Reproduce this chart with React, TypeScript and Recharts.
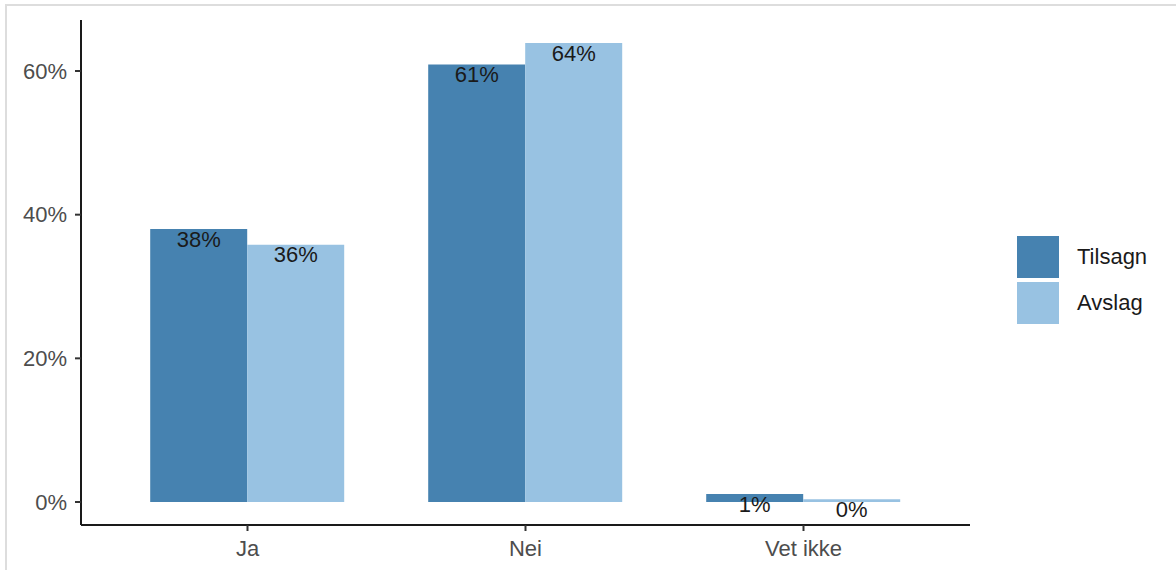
import { Bar, BarChart, LabelList, XAxis, YAxis } from "recharts";

const categories = ["Ja", "Nei", "Vet ikke"];
const tilsagn = [38.0, 60.9, 1.1];
const avslag = [35.8, 63.9, 0.4];
const yTicks = [0, 20, 40, 60];

const seriesNames = ["Tilsagn", "Avslag"];
const seriesColors = ["#4682B0", "#98C2E2"];

const data = categories.map((cat, i) => ({
  cat,
  Tilsagn: tilsagn[i],
  Avslag: avslag[i],
}));

const pct = (v: unknown) => `${Math.round(Number(v))}%`;

export default function App() {
  return (
    <div
      style={{
        position: "absolute",
        left: 0,
        top: 0,
        width: 1176,
        height: 570,
        background: "#fff",
        fontFamily: "'Liberation Sans', Arial, sans-serif",
        overflow: "hidden",
      }}
    >
      {/* light frame, top and left edges only */}
      <div
        style={{
          position: "absolute",
          left: 5,
          top: 4,
          right: -10,
          bottom: -10,
          borderTop: "2px solid #DDDDDD",
          borderLeft: "2px solid #DDDDDD",
        }}
      />
      <BarChart
        width={1176}
        height={570}
        data={data}
        margin={{ top: 20, right: 206, bottom: 0, left: 0 }}
        barCategoryGap="15%"
        barGap={0}
        style={{ position: "absolute", left: 0, top: 0 }}
      >
        <XAxis
          dataKey="cat"
          height={45}
          padding={{ left: 27.5, right: 27.5 }}
          axisLine={{ stroke: "#1A1A1A", strokeWidth: 2 }}
          tickLine={{ stroke: "#333333", strokeWidth: 2 }}
          tickSize={6}
          tickMargin={9}
          tick={{ fill: "#4D4D4D", fontSize: 22 }}
        />
        <YAxis
          type="number"
          width={81}
          domain={[-3.2, 67.1]}
          ticks={yTicks}
          allowDataOverflow
          tickFormatter={(v) => `${v}%`}
          axisLine={{ stroke: "#1A1A1A", strokeWidth: 2 }}
          tickLine={{ stroke: "#333333", strokeWidth: 2 }}
          tickSize={6}
          tickMargin={8}
          tick={{ fill: "#4D4D4D", fontSize: 22 }}
        />
        {seriesNames.map((name, i) => (
          <Bar key={name} dataKey={name} fill={seriesColors[i]} isAnimationActive={false}>
            <LabelList
              dataKey={name}
              position="insideTop"
              offset={2}
              formatter={pct}
              fill="#1A1A1A"
              fontSize={22}
            />
          </Bar>
        ))}
      </BarChart>
      {/* legend */}
      <div style={{ position: "absolute", left: 1017, top: 236 }}>
        {seriesNames.map((name, i) => (
          <div
            key={name}
            style={{ display: "flex", alignItems: "center", height: 42, marginBottom: 4 }}
          >
            <div style={{ width: 42, height: 42, background: seriesColors[i] }} />
            <span style={{ marginLeft: 18, fontSize: 22, color: "#1A1A1A" }}>{name}</span>
          </div>
        ))}
      </div>
    </div>
  );
}
